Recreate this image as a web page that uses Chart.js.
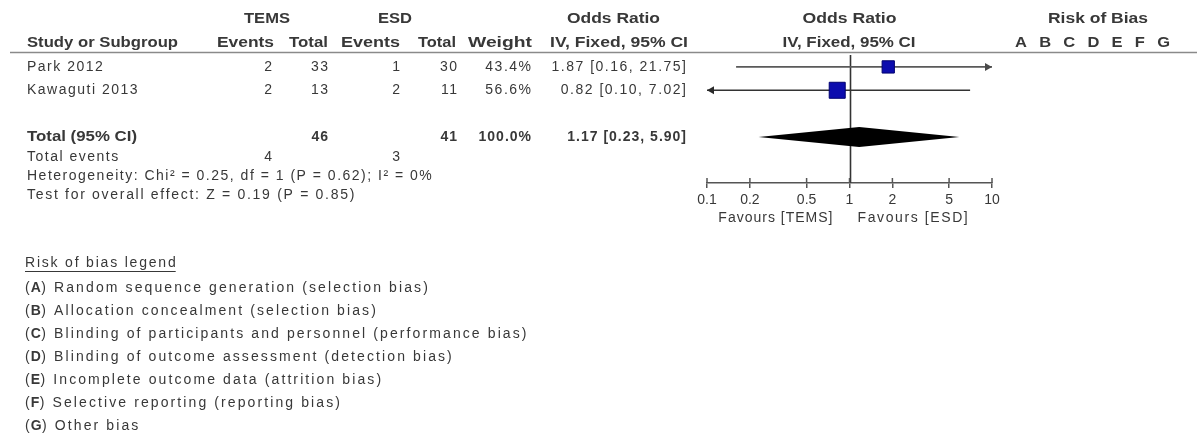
<!DOCTYPE html>
<html lang="en">
    <head>
        <meta charset="UTF-8" />
        <title>TEMS vs ESD - forest plot</title>
        <script src="https://cdn.jsdelivr.net/npm/chart.js"></script>
    </head>
    <body>
        <style>
            body {
                margin: 0;
                background-color: white;
            }
            #chart {
                display: block;
            }
        </style>
        <canvas id="chart" width="1197" height="438"></canvas>
        <script>
            // study rows
            const studies = ["Park 2012", "Kawaguti 2013"];
            const studyRows = [1, 2];
            const temsEvents = [2, 2];
            const temsTotal = [33, 13];
            const esdEvents = [1, 2];
            const esdTotal = [30, 11];
            const weights = [43.4, 56.6];
            const oddsRatio = [1.87, 0.82];
            const ciLow = [0.16, 0.1];
            const ciHigh = [21.75, 7.02];

            // pooled result
            const totalRow = 4;
            const totalTems = 46;
            const totalEsd = 41;
            const totalWeight = 100.0;
            const totalOR = 1.17;
            const totalLow = 0.23;
            const totalHigh = 5.9;
            const totalEventsTems = 4;
            const totalEventsEsd = 3;
            const heterogeneity = "Heterogeneity: Chi² = 0.25, df = 1 (P = 0.62); I² = 0%";
            const overallEffect = "Test for overall effect: Z = 0.19 (P = 0.85)";

            const xTicks = [0.1, 0.2, 0.5, 1, 2, 5, 10];
            const favours = ["Favours [TEMS]", "Favours [ESD]"];

            const biasLetters = ["A", "B", "C", "D", "E", "F", "G"];
            const biasLegend = [
                "Random sequence generation (selection bias)",
                "Allocation concealment (selection bias)",
                "Blinding of participants and personnel (performance bias)",
                "Blinding of outcome assessment (detection bias)",
                "Incomplete outcome data (attrition bias)",
                "Selective reporting (reporting bias)",
                "Other bias",
            ];

            const FONT = '"Liberation Sans", Arial, sans-serif';
            const TEXT = "#383838";
            const SIZE = 14;
            const SPACING = 1.5;
            const X_MIN = 0.1;
            const X_MAX = 10;

            const fmt2 = (v) => v.toFixed(2);
            const ciText = (e, l, h) => `${fmt2(e)} [${fmt2(l)}, ${fmt2(h)}]`;

            function setFont(ctx, bold, size, spacing) {
                ctx.font = (bold ? "bold " : "") + size + "px " + FONT;
                ctx.letterSpacing = spacing + "px";
            }

            // plain text; right/center alignment ignores the trailing spacing
            function txt(ctx, s, x, y, align, bold, spacing) {
                const sp = spacing === undefined ? SPACING : spacing;
                setFont(ctx, bold, SIZE, sp);
                ctx.textBaseline = "middle";
                ctx.fillStyle = TEXT;
                ctx.textAlign = "left";
                const w = ctx.measureText(s).width - sp;
                let x0 = x;
                if (align === "right") x0 = x - w;
                if (align === "center") x0 = x - w / 2;
                ctx.fillText(s, x0, y);
                ctx.letterSpacing = "0px";
                return x0 + w + sp;
            }

            // header text widened over a column span (wider glyphs, then spacing)
            function span(ctx, s, x0, x1, y, bold, size, maxStretch) {
                setFont(ctx, bold, size, 0);
                const w = ctx.measureText(s).width;
                const sx = Math.min((x1 - x0) / w, maxStretch || 1.3);
                const sp = (x1 - x0 - w * sx) / Math.max(s.length - 1, 1) / sx;
                ctx.save();
                ctx.translate(x0, y);
                ctx.scale(sx, 1);
                setFont(ctx, bold, size, sp);
                ctx.textBaseline = "middle";
                ctx.textAlign = "left";
                ctx.fillStyle = TEXT;
                ctx.fillText(s, 0, 0);
                ctx.restore();
                ctx.letterSpacing = "0px";
            }

            // CI whiskers, clipped to the axis range
            const ciSets = studies.map((s, i) => ({
                type: "line",
                label: s + " CI",
                data: [
                    { x: Math.max(ciLow[i], X_MIN), y: studyRows[i] },
                    { x: Math.min(ciHigh[i], X_MAX), y: studyRows[i] },
                ],
                borderColor: i === 0 ? "#5a5a5a" : "#333",
                borderWidth: 1.6,
                pointRadius: 0,
                order: 2,
            }));

            const squareSet = {
                type: "scatter",
                label: "Studies",
                data: studies.map((s, i) => ({ x: oddsRatio[i], y: studyRows[i] })),
                pointStyle: "rect",
                pointRadius: (c) => weights[c.dataIndex] * 0.2,
                backgroundColor: "#0c0cae",
                borderColor: "#000070",
                borderWidth: 1,
                order: 1,
            };

            const forestPlugin = {
                id: "forest",
                beforeDatasetsDraw(chart) {
                    const ctx = chart.ctx;
                    const xs = chart.scales.x;
                    const area = chart.chartArea;
                    const x1 = Math.round(xs.getPixelForValue(1)) + 0.5;
                    ctx.save();
                    ctx.strokeStyle = "#333";
                    ctx.lineWidth = 1.6;
                    ctx.beginPath();
                    ctx.moveTo(x1, area.top);
                    ctx.lineTo(x1, area.bottom);
                    ctx.stroke();
                    // upper half of the tick marks
                    ctx.strokeStyle = "#555";
                    ctx.lineWidth = 1.5;
                    xTicks.forEach((t) => {
                        const px = xs.getPixelForValue(t);
                        ctx.beginPath();
                        ctx.moveTo(px, area.bottom - 5);
                        ctx.lineTo(px, area.bottom);
                        ctx.stroke();
                    });
                    ctx.restore();
                },
                afterDatasetsDraw(chart) {
                    const ctx = chart.ctx;
                    const xs = chart.scales.x;
                    const ys = chart.scales.y;
                    ctx.save();
                    // arrows where the CI runs off the axis
                    studies.forEach((s, i) => {
                        const py = ys.getPixelForValue(studyRows[i]);
                        ctx.fillStyle = i === 0 ? "#4a4a4a" : "#2a2a2a";
                        if (ciHigh[i] >= X_MAX) {
                            const px = xs.getPixelForValue(X_MAX);
                            ctx.beginPath();
                            ctx.moveTo(px, py);
                            ctx.lineTo(px - 7, py - 4);
                            ctx.lineTo(px - 7, py + 4);
                            ctx.closePath();
                            ctx.fill();
                        }
                        if (ciLow[i] <= X_MIN) {
                            const px = xs.getPixelForValue(X_MIN);
                            ctx.beginPath();
                            ctx.moveTo(px, py);
                            ctx.lineTo(px + 7, py - 4);
                            ctx.lineTo(px + 7, py + 4);
                            ctx.closePath();
                            ctx.fill();
                        }
                    });
                    // pooled diamond
                    const dy = ys.getPixelForValue(totalRow);
                    ctx.fillStyle = "#000";
                    ctx.beginPath();
                    ctx.moveTo(xs.getPixelForValue(totalLow), dy);
                    ctx.lineTo(xs.getPixelForValue(totalOR), dy - 10);
                    ctx.lineTo(xs.getPixelForValue(totalHigh), dy);
                    ctx.lineTo(xs.getPixelForValue(totalOR), dy + 10);
                    ctx.closePath();
                    ctx.fill();
                    ctx.restore();
                },
                afterDraw(chart) {
                    const ctx = chart.ctx;
                    const xs = chart.scales.x;
                    const ys = chart.scales.y;
                    const x1 = xs.getPixelForValue(1);
                    ctx.save();

                    // header rule
                    ctx.strokeStyle = "#8a8a8a";
                    ctx.lineWidth = 1.5;
                    ctx.beginPath();
                    ctx.moveTo(10, 52.5);
                    ctx.lineTo(1197, 52.5);
                    ctx.stroke();

                    // headers
                    span(ctx, "TEMS", 244, 290, 19, true, 15);
                    span(ctx, "ESD", 378, 412, 19, true, 15);
                    span(ctx, "Odds Ratio", 567, 660, 19, true, 15);
                    span(ctx, "Odds Ratio", x1 - 47, x1 + 47, 19, true, 15);
                    span(ctx, "Risk of Bias", 1048, 1148, 19, true, 15);
                    span(ctx, "Study or Subgroup", 27, 178, 43, true, 15);
                    span(ctx, "Events", 217, 274, 43, true, 15);
                    span(ctx, "Total", 289, 328, 43, true, 15);
                    span(ctx, "Events", 341, 400, 43, true, 15);
                    span(ctx, "Total", 418, 456, 43, true, 15);
                    span(ctx, "Weight", 468, 532, 43, true, 15);
                    span(ctx, "IV, Fixed, 95% CI", 550, 688, 43, true, 15);
                    span(ctx, "IV, Fixed, 95% CI", x1 - 67, x1 + 66, 43, true, 15);
                    span(ctx, biasLetters.join(" "), 1015, 1170, 43, true, 15, 1.1);

                    // study rows
                    studies.forEach((s, i) => {
                        const y = ys.getPixelForValue(studyRows[i]);
                        txt(ctx, s, 27, y, "left", false);
                        txt(ctx, String(temsEvents[i]), 272, y, "right", false);
                        txt(ctx, String(temsTotal[i]), 328, y, "right", false);
                        txt(ctx, String(esdEvents[i]), 400, y, "right", false);
                        txt(ctx, String(esdTotal[i]), 457, y, "right", false);
                        txt(ctx, weights[i].toFixed(1) + "%", 531, y, "right", false);
                        txt(ctx, ciText(oddsRatio[i], ciLow[i], ciHigh[i]), 686, y, "right", false);
                    });

                    // total rows
                    const ty = ys.getPixelForValue(totalRow);
                    span(ctx, "Total (95% CI)", 27, 137, ty, true, 15);
                    txt(ctx, String(totalTems), 328, ty, "right", true, 1);
                    txt(ctx, String(totalEsd), 457, ty, "right", true, 1);
                    txt(ctx, totalWeight.toFixed(1) + "%", 531, ty, "right", true, 1);
                    txt(ctx, ciText(totalOR, totalLow, totalHigh), 686, ty, "right", true, 1);
                    txt(ctx, "Total events", 27, 157, "left", false);
                    txt(ctx, String(totalEventsTems), 272, 157, "right", false);
                    txt(ctx, String(totalEventsEsd), 400, 157, "right", false);
                    txt(ctx, heterogeneity, 27, 176, "left", false);
                    txt(ctx, overallEffect, 27, 195, "left", false, 1.7);

                    // favours labels
                    txt(ctx, favours[0], x1 - 17, 218, "right", false, 1.0);
                    txt(ctx, favours[1], x1 + 8, 218, "left", false, 1.6);

                    // risk of bias legend
                    const ue = txt(ctx, "Risk of bias legend", 25, 263, "left", false, 1.8);
                    ctx.strokeStyle = TEXT;
                    ctx.lineWidth = 1;
                    ctx.beginPath();
                    ctx.moveTo(25, 271.5);
                    ctx.lineTo(ue - 1.8, 271.5);
                    ctx.stroke();

                    biasLetters.forEach((l, i) => {
                        const y = 288 + i * 23;
                        let x = txt(ctx, "(", 25, y, "left", false, 1);
                        x = txt(ctx, l, x, y, "left", true, 0.5);
                        txt(ctx, ") " + biasLegend[i], x, y, "left", false, 2.1);
                    });
                    ctx.restore();
                },
            };

            new Chart("chart", {
                data: { datasets: [...ciSets, squareSet] },
                options: {
                    responsive: false,
                    animation: false,
                    devicePixelRatio: 1,
                    layout: {
                        padding: { left: 707, right: 205, top: 55, bottom: 0 },
                    },
                    plugins: {
                        legend: { display: false },
                        tooltip: { enabled: false },
                    },
                    scales: {
                        x: {
                            type: "logarithmic",
                            min: X_MIN,
                            max: X_MAX,
                            afterBuildTicks: (scale) => {
                                scale.ticks = xTicks.map((v) => ({ value: v }));
                            },
                            afterFit: (scale) => {
                                scale.height = 255;
                            },
                            ticks: {
                                autoSkip: false,
                                maxRotation: 0,
                                padding: 4,
                                color: TEXT,
                                font: { family: FONT, size: 14 },
                                callback: (v) => String(v),
                            },
                            grid: {
                                drawOnChartArea: false,
                                drawTicks: true,
                                tickLength: 5,
                                color: "#555",
                                lineWidth: 1.5,
                            },
                            border: { display: true, color: "#555", width: 1.5 },
                        },
                        y: {
                            type: "linear",
                            display: false,
                            reverse: true,
                            min: 0.49,
                            max: 5.97,
                        },
                    },
                },
                plugins: [forestPlugin],
            });
        </script>
    </body>
</html>
